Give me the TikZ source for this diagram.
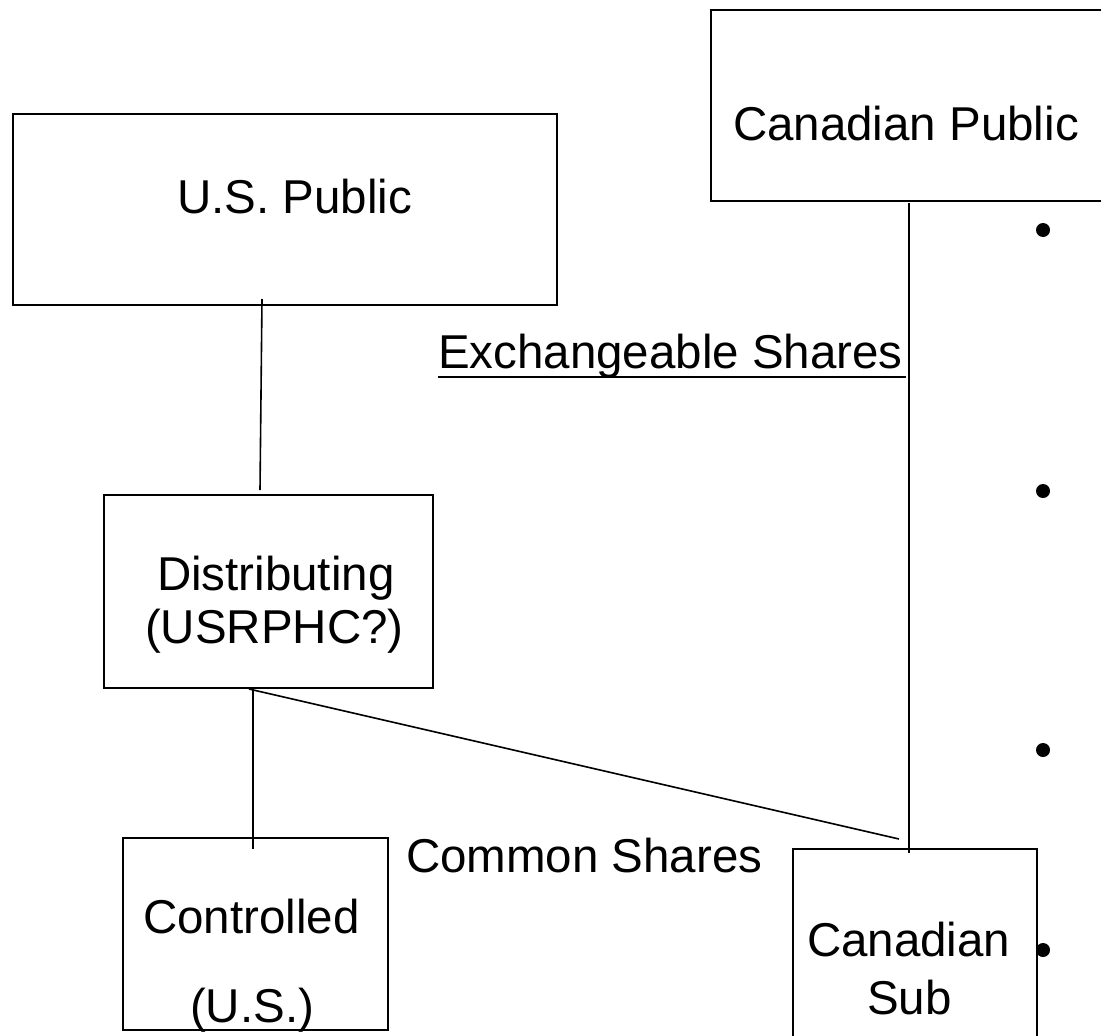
\documentclass[tikz,border=0pt]{standalone}
\usepackage{fontspec}
\setmainfont{Liberation Sans}
\begin{document}
\begin{tikzpicture}[x=1pt,y=-1pt,
  box/.style={draw=black,line width=1.7pt,fill=none},
  lbl/.style={inner sep=0pt,outer sep=0pt,anchor=base west,font=\fontsize{47.5}{57}\selectfont},
  conn/.style={draw=black,line width=1.6pt},
  bul/.style={circle,fill=black,inner sep=0pt,minimum size=14pt}]
\useasboundingbox (0,0) rectangle (1101,1036);
\clip (0,0) rectangle (1101,1036);
% boxes
\node[box,minimum width=544pt,minimum height=191pt,anchor=north west] (uspub) at (12,113) {};
\node[box,minimum width=420pt,minimum height=191pt,anchor=north west] (canpub) at (710,9) {};
\node[box,minimum width=329pt,minimum height=193pt,anchor=north west] (dist) at (103,494) {};
\node[box,minimum width=265pt,minimum height=192pt,anchor=north west] (ctrl) at (122,837) {};
\node[box,minimum width=244pt,minimum height=220pt,anchor=north west] (cansub) at (792,848) {};
% texts
\node[lbl] (tuspub) at (177,213) {U.S. Public};
\node[lbl] (tcanpub) at (733,140) {Canadian Public};
\node[lbl] (texch) at (438,368) {Exchangeable Shares};
\node[lbl] (tdist1) at (157,590) {Distributing};
\node[lbl] (tdist2) at (145,643) {(USRPHC?)};
\node[lbl] (tctrl1) at (143,933) {Controlled};
\node[lbl] (tctrl2) at (190,1022) {(U.S.)};
\node[lbl] (tcommon) at (406,872) {Common Shares};
\node[lbl] (tcansub1) at (807,956) {Canadian};
\node[lbl] (tcansub2) at (867,1014) {Sub};
% underline
\coordinate (ul1) at (438,377);
\coordinate (ul2) at (906,377);
\draw[line width=1.6pt] (ul1) -- (ul2);
% connector end points
\coordinate (a1) at (262,299);
\coordinate (a2) at (260,490);
\coordinate (b1) at (909,203);
\coordinate (b2) at (909,853);
\coordinate (c1) at (253,688);
\coordinate (c2) at (253,849);
\coordinate (d1) at (249,689);
\coordinate (d2) at (899,839);
\draw[conn] (a1) -- (a2);
\draw[conn] (b1) -- (b2);
\draw[conn] (c1) -- (c2);
\draw[conn] (d1) -- (d2);
% bullets
\node[bul] (bu1) at (1043,230) {};
\node[bul] (bu2) at (1043,491) {};
\node[bul] (bu3) at (1043,750) {};
\node[bul] (bu4) at (1043,950) {};
\end{tikzpicture}
\end{document}
